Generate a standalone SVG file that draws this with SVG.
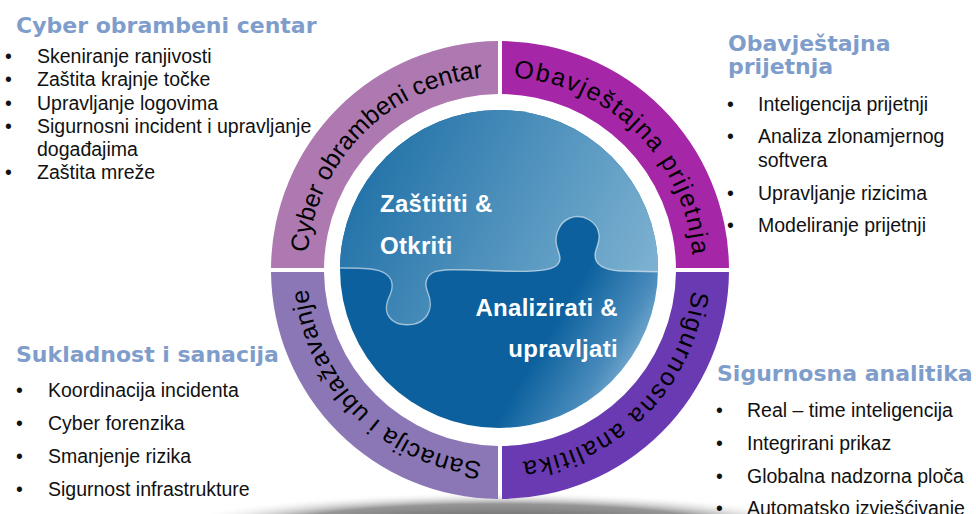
<svg xmlns="http://www.w3.org/2000/svg" width="976" height="514" viewBox="0 0 976 514">
<style>
.head{font-family:"DejaVu Sans",Verdana,sans-serif;font-weight:bold;font-size:22px;fill:#7F9DCB}
.item{font-family:"Liberation Sans",Arial,sans-serif;font-size:19.5px;fill:#111}
.ring{font-family:"Liberation Sans",Arial,sans-serif;font-size:25px;fill:#000}
.center{font-family:"Liberation Sans",Arial,sans-serif;font-weight:bold;font-size:24px;fill:#fff;letter-spacing:0.3px}
</style>
<defs>
<radialGradient id="shadow" cx="0.5" cy="0.5" r="0.5">
<stop offset="0" stop-color="#444"/>
<stop offset="0.7" stop-color="#8a8a8a" stop-opacity="0.9"/>
<stop offset="1" stop-color="#fff" stop-opacity="0"/>
</radialGradient>
<linearGradient id="topBlue" gradientUnits="userSpaceOnUse" x1="360" y1="140" x2="660" y2="280">
<stop offset="0" stop-color="#1F70A7"/>
<stop offset="1" stop-color="#7FB3D2"/>
</linearGradient>
<linearGradient id="botBlue" gradientUnits="userSpaceOnUse" x1="420" y1="300" x2="640" y2="430">
<stop offset="0" stop-color="#0B609D"/>
<stop offset="0.5" stop-color="#0B609D"/>
<stop offset="0.75" stop-color="#4A8CBC"/>
<stop offset="1" stop-color="#B6D6E7"/>
</linearGradient>
<clipPath id="disc"><circle cx="499" cy="269" r="159"/></clipPath>
<path id="arcTL" d="M 307 270 A 193 193 0 0 1 500 77"/>
<path id="arcTR" d="M 500 77 A 193 193 0 0 1 693 270"/>
<path id="arcBR" d="M 693 270 A 193 193 0 0 1 500 463"/>
<path id="arcBL" d="M 500 463 A 193 193 0 0 1 307 270"/>
</defs>

<rect width="976" height="514" fill="#fff"/>
<ellipse cx="500" cy="532" rx="340" ry="40" fill="url(#shadow)"/>

<g id="seg-cyber">
<path d="M 271.01 268 A 229 229 0 0 1 498 41.01 L 498 94.01 A 176 176 0 0 0 324.01 268 Z" fill="#AD79B0"/>
<text class="ring"><textPath href="#arcTL" startOffset="50%" text-anchor="middle">Cyber obrambeni centar</textPath></text>
</g>
<g id="seg-obavjestajna">
<path d="M 502 41.01 A 229 229 0 0 1 728.99 268 L 675.99 268 A 176 176 0 0 0 502 94.01 Z" fill="#A526A6"/>
<text class="ring" letter-spacing="1.6"><textPath href="#arcTR" startOffset="50%" text-anchor="middle">Obavještajna prijetnja</textPath></text>
</g>
<g id="seg-sigurnosna">
<path d="M 728.99 272 A 229 229 0 0 1 502 498.99 L 502 445.99 A 176 176 0 0 0 675.99 272 Z" fill="#6A3AB2"/>
<text class="ring" letter-spacing="1.8"><textPath href="#arcBR" startOffset="50%" text-anchor="middle">Sigurnosna analitika</textPath></text>
</g>
<g id="seg-sanacija">
<path d="M 498 498.99 A 229 229 0 0 1 271.01 272 L 324.01 272 A 176 176 0 0 0 498 445.99 Z" fill="#8B77B5"/>
<text class="ring" letter-spacing="0.8"><textPath href="#arcBL" startOffset="50%" text-anchor="middle">Sanacija i ublažavanje</textPath></text>
</g>

<g id="puzzle">
<g clip-path="url(#disc)">
<rect x="330" y="100" width="340" height="340" fill="url(#botBlue)"/>
<path d="M 330 268 L 340 268 C 362 268, 378 268, 386 274 C 394 280, 393 288, 390 295 C 386 303, 385 312, 390 318 C 396 326, 416 328, 425 318 C 432 310, 431 300, 428 293 C 425 286, 425 278, 432 273 C 440 268, 470 270, 500 271 C 525 272, 548 272, 556 266 C 562 261, 560 256, 558 250 C 553 238, 558 223, 570 218 C 583 213, 598 222, 599 235 C 600 243, 595 249, 595 255 C 595 265, 605 270, 620 271 L 670 272 L 670 100 L 330 100 Z" fill="url(#topBlue)"/>
<path d="M 330 268 L 340 268 C 362 268, 378 268, 386 274 C 394 280, 393 288, 390 295 C 386 303, 385 312, 390 318 C 396 326, 416 328, 425 318 C 432 310, 431 300, 428 293 C 425 286, 425 278, 432 273 C 440 268, 470 270, 500 271 C 525 272, 548 272, 556 266 C 562 261, 560 256, 558 250 C 553 238, 558 223, 570 218 C 583 213, 598 222, 599 235 C 600 243, 595 249, 595 255 C 595 265, 605 270, 620 271 L 670 272" fill="none" stroke="#fff" stroke-opacity="0.55" stroke-width="1.4"/>
</g>
<text class="center" x="380" y="212">Zaštititi &amp;</text>
<text class="center" x="380" y="254">Otkriti</text>
<text class="center" x="618" y="316" text-anchor="end">Analizirati &amp;</text>
<text class="center" x="618" y="357" text-anchor="end">upravljati</text>
</g>

<g id="list-cyber">
<text class="head" x="16" y="33">Cyber obrambeni centar</text>
<text class="item" x="5" y="63">•</text><text class="item" x="37" y="63">Skeniranje ranjivosti</text>
<text class="item" x="5" y="86">•</text><text class="item" x="37" y="86">Zaštita krajnje točke</text>
<text class="item" x="5" y="109.5">•</text><text class="item" x="37" y="109.5">Upravljanje logovima</text>
<text class="item" x="5" y="132.5">•</text><text class="item" x="37" y="132.5">Sigurnosni incident i upravljanje</text>
<text class="item" x="37" y="156">događajima</text>
<text class="item" x="5" y="179">•</text><text class="item" x="37" y="179">Zaštita mreže</text>
</g>

<g id="list-obavjestajna">
<text class="head" x="728" y="51">Obavještajna</text>
<text class="head" x="728" y="74">prijetnja</text>
<text class="item" x="727" y="111">•</text><text class="item" x="758" y="111">Inteligencija prijetnji</text>
<text class="item" x="727" y="143">•</text><text class="item" x="758" y="143">Analiza zlonamjernog</text>
<text class="item" x="758" y="167">softvera</text>
<text class="item" x="727" y="200">•</text><text class="item" x="758" y="200">Upravljanje rizicima</text>
<text class="item" x="727" y="232">•</text><text class="item" x="758" y="232">Modeliranje prijetnji</text>
</g>

<g id="list-sukladnost">
<text class="head" x="16" y="362">Sukladnost i sanacija</text>
<text class="item" x="16" y="396.5">•</text><text class="item" x="48" y="396.5">Koordinacija incidenta</text>
<text class="item" x="16" y="430">•</text><text class="item" x="48" y="430">Cyber forenzika</text>
<text class="item" x="16" y="463">•</text><text class="item" x="48" y="463">Smanjenje rizika</text>
<text class="item" x="16" y="496">•</text><text class="item" x="48" y="496">Sigurnost infrastrukture</text>
</g>

<g id="list-sigurnosna">
<text class="head" x="717" y="381">Sigurnosna analitika</text>
<text class="item" x="716" y="417">•</text><text class="item" x="747" y="417">Real – time inteligencija</text>
<text class="item" x="716" y="450">•</text><text class="item" x="747" y="450">Integrirani prikaz</text>
<text class="item" x="716" y="483">•</text><text class="item" x="747" y="483">Globalna nadzorna ploča</text>
<text class="item" x="716" y="515">•</text><text class="item" x="747" y="515">Automatsko izvješćivanje</text>
</g>

<g id="connectors"/>
</svg>
